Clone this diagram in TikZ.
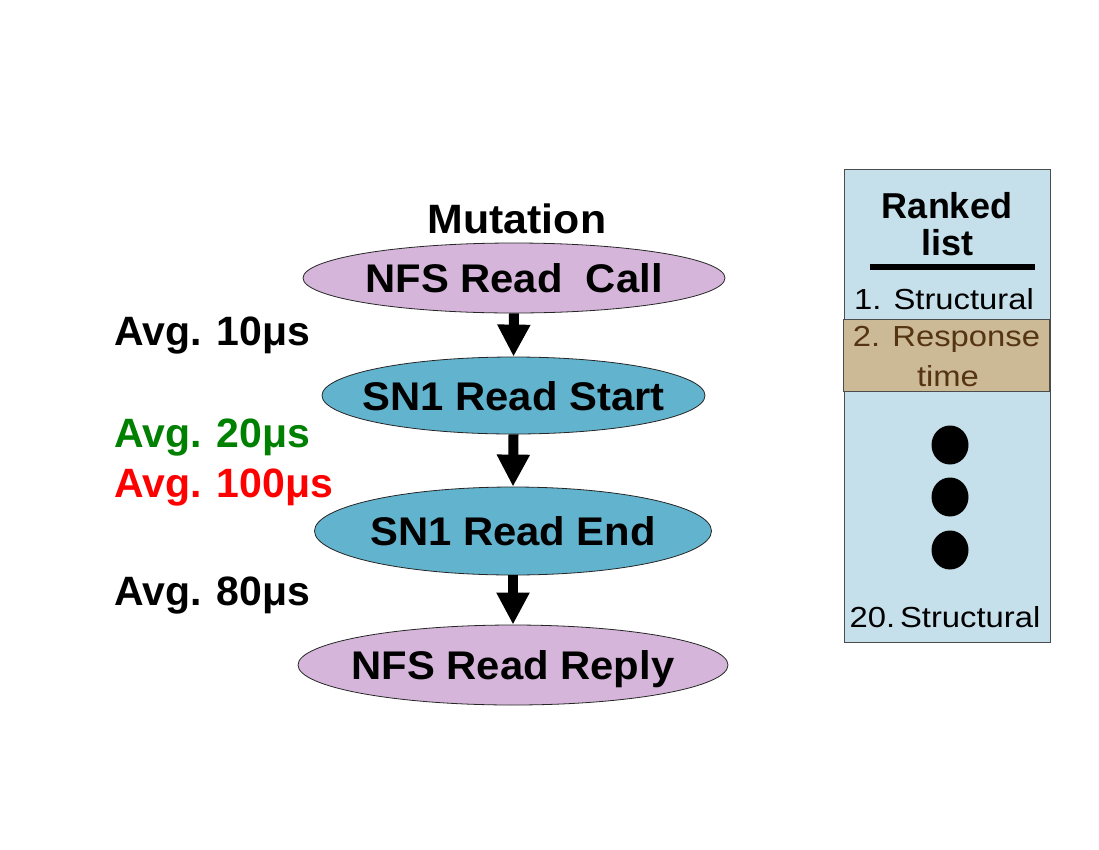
\documentclass[tikz,border=0pt]{standalone}
\usepackage{fontspec}
\setmainfont{Liberation Sans}
\newfontfamily\listfont[FakeStretch=1.13]{Liberation Sans}
\newfontfamily\widefont[FakeStretch=1.045]{Liberation Sans}
\usetikzlibrary{shapes.geometric,arrows.meta}
\definecolor{nfsfill}{RGB}{213,182,218}
\definecolor{snfill}{RGB}{98,180,206}
\definecolor{listfill}{RGB}{197,224,234}
\definecolor{hlfill}{RGB}{204,185,150}
\definecolor{hltext}{RGB}{85,52,18}
\definecolor{avggreen}{RGB}{0,128,0}
\definecolor{avgred}{RGB}{255,0,0}
\newcommand{\zw}[1]{\makebox[0pt]{#1}}
\begin{document}
\begin{tikzpicture}[x=1pt,y=-1pt,
 evt/.style={ellipse, draw=black!85, line width=0.8pt, inner sep=0pt,
   font=\fontsize{40}{48}\selectfont\widefont\bfseries, text height=29pt, text depth=0pt},
 nfs/.style={evt, fill=nfsfill},
 sn/.style={evt, fill=snfill},
 flow/.style={line width=10pt, -{Triangle[width=31pt,length=32pt]}},
 avg/.style={anchor=base west, inner sep=0pt, font=\fontsize{41}{49}\selectfont\bfseries},
 head/.style={anchor=base, inner sep=0pt, font=\fontsize{36}{43}\selectfont\bfseries},
 item/.style={anchor=base, inner sep=0pt, font=\fontsize{29}{35}\selectfont\listfont},
 panel/.style={draw=black!70, line width=0.8pt, inner sep=0pt},
 dot/.style={ellipse, fill=black, inner sep=0pt, minimum width=37pt, minimum height=39pt}]
\useasboundingbox (0,0) rectangle (1099,849);
\fill[white] (0,0) rectangle (1099,849);

% flow
\node[anchor=base, inner sep=0pt, font=\fontsize{41}{49}\selectfont\widefont\bfseries] (mut) at (517,233) {Mutation};
\node[nfs, minimum width=422pt, minimum height=70pt] (call) at (514,278) {\zw{NFS Read\ \ Call}};
\node[sn, minimum width=383pt, minimum height=77pt] (start) at (513.5,395.5) {\zw{SN1 Read Start}};
\node[sn, minimum width=397pt, minimum height=88pt] (end) at (513,531) {\zw{SN1 Read End}};
\node[nfs, minimum width=430pt, minimum height=80pt] (reply) at (513,665) {\zw{NFS Read Reply}};

\draw[flow] (call.south) -- (start.north);
\draw[flow] (start.south) -- (end.north);
\draw[flow] (end.south) -- (reply.north);

\node[avg] (a1) at (114,345) {Avg. 10μs};
\node[avg, text=avggreen] (a2) at (114,447) {Avg. 20μs};
\node[avg, text=avgred] (a3) at (114,497) {Avg. 100μs};
\node[avg] (a4) at (114,605) {Avg. 80μs};

% ranked list
\node[panel, fill=listfill, minimum width=206pt, minimum height=473pt] (list) at (947,405.5) {};
\node[panel, fill=hlfill, minimum width=206pt, minimum height=72pt] (hl) at (946,355) {};
\node[head] (rk1) at (947,218) {Ranked};
\node[head] (rk2) at (947,255) {list};
\draw[line width=6pt] (870,267) -- (1035,267);
\node[item] (i1) at (944,309) {1. Structural};
\node[item, text=hltext] (i2) at (946.5,346) {2. Response};
\node[item, text=hltext] (i2b) at (948,386) {time};
\node[dot] (d1) at (950,445) {};
\node[dot] (d2) at (950,497) {};
\node[dot] (d3) at (950,550) {};
\node[item] (i20) at (945,627) {20.\,Structural};
\end{tikzpicture}
\end{document}
